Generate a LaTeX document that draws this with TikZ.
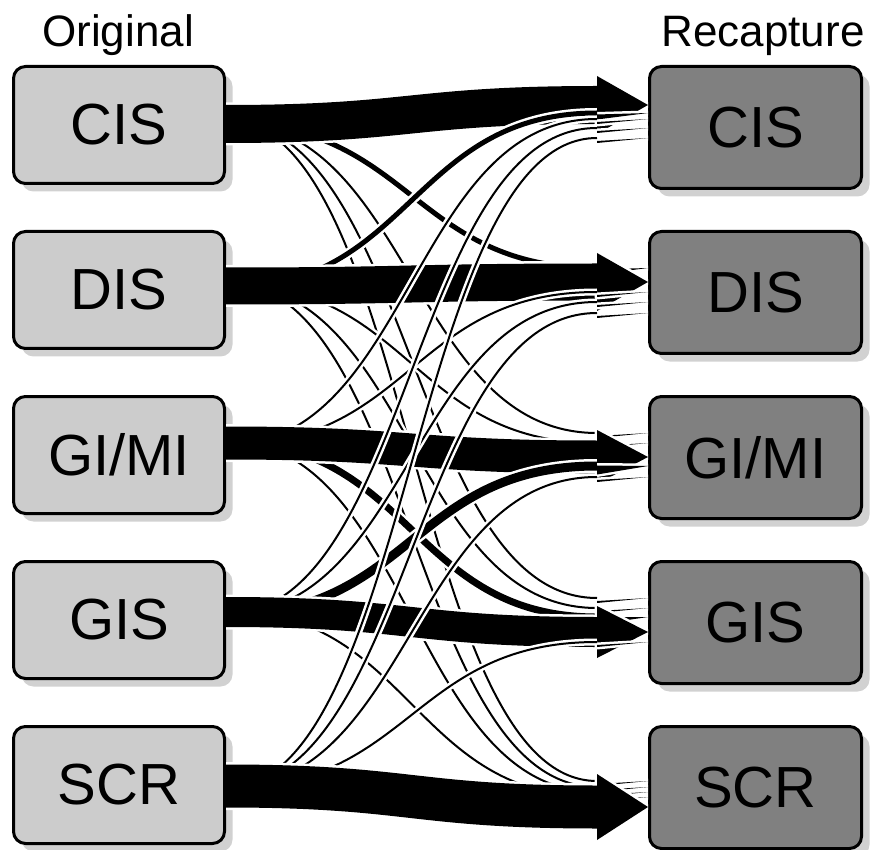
\documentclass[tikz,border=0pt]{standalone}
\usepackage{fontspec}
\setmainfont{Liberation Sans}
\usetikzlibrary{calc,shadows}
\tikzset{
  boxbase/.style={draw=black, line width=3pt, rounded corners=12pt, inner sep=0pt,
    font=\fontsize{58}{60}\selectfont,
    drop shadow={shadow xshift=8pt, shadow yshift=-8pt, fill=black!18, opacity=1}},
  srcbox/.style={boxbase, fill=black!20, minimum width=211pt, minimum height=117pt},
  tgtbox/.style={boxbase, fill=black!50, minimum width=212pt, minimum height=122pt},
  hdr/.style={anchor=base, font=\fontsize{44}{48}\selectfont},
  wbord/.style={draw=white, line join=round},
  bflow/.style={draw=black}
}
% #1 source node, #2 source dy, #3 target node, #4 target dy, #5 width, #6 head half-height
\newcommand\flw[6]{%
  \coordinate (fs) at ($(#1.east)+(0,#2)$);
  \coordinate (fe) at ($(#3.west)+(-51,#4)$);
  \coordinate (ft) at ($(#3.west)+(0,#4)$);
  \path[wbord, line width=#5pt+5pt] (fs) .. controls ($(fs)+(185,0)$) and ($(fe)+(-185,0)$) .. (fe);
  \path[wbord, line width=5pt, fill=white] ($(fe)+(0,-#6)$) -- (ft) -- ($(fe)+(0,#6)$) -- cycle;
  \path[bflow, line width=#5pt] (fs) .. controls ($(fs)+(185,0)$) and ($(fe)+(-185,0)$) .. (fe);
  \fill[black] ($(fe)+(0,-#6)$) -- (ft) -- ($(fe)+(0,#6)$) -- cycle;
}
\newcommand\thin[5]{\flw{#1}{#2}{#3}{#4}{#5}{#5/2+4}}
\begin{document}
\begin{tikzpicture}[x=1pt,y=-1pt]
\useasboundingbox (0,0) rectangle (873,850);
\node[hdr] (hl) at (118,47) {Original};
\node[hdr] (hr) at (763,47) {Recapture};
\node[srcbox] (L1) at (119,125) {CIS};
\node[srcbox] (L2) at (119,290) {DIS};
\node[srcbox] (L3) at (119,455) {GI/MI};
\node[srcbox] (L4) at (119,620) {GIS};
\node[srcbox] (L5) at (119,785) {SCR};
\node[tgtbox] (R1) at (755.5,127.5) {CIS};
\node[tgtbox] (R2) at (755.5,292.5) {DIS};
\node[tgtbox] (R3) at (755.5,457.5) {GI/MI};
\node[tgtbox] (R4) at (755.5,622.5) {GIS};
\node[tgtbox] (R5) at (755.5,787.5) {SCR};
\begin{scope}
\clip ($(L1.east)+(0,-200)$) rectangle ($(R5.west)+(0,100)$);
% source CIS
\thin{L1}{-2}{R2}{-24.5}{5}
\thin{L1}{-3}{R3}{-24.5}{2}
\thin{L1}{-4}{R4}{-24.5}{2}
\thin{L1}{-5}{R5}{-6.5}{2}
\flw{L1}{-1}{R1}{-22.5}{38}{29}
% source DIS
\thin{L2}{-2}{R1}{-14.5}{5}
\thin{L2}{-6}{R3}{-14.5}{2}
\thin{L2}{-7}{R4}{-14.5}{2}
\thin{L2}{-8}{R5}{-0.5}{2}
\flw{L2}{-4}{R2}{-10.5}{37}{29}
% source GI/MI
\thin{L3}{-10}{R1}{-8.5}{2}
\thin{L3}{-10}{R2}{-0.5}{2}
\thin{L3}{-13}{R4}{-5.5}{7}
\thin{L3}{-14}{R5}{4.5}{2}
\flw{L3}{-12}{R3}{-0.5}{33}{27}
% source GIS
\thin{L4}{-6}{R1}{0.5}{2}
\thin{L4}{-6}{R2}{9.5}{2}
\thin{L4}{-5}{R3}{8.5}{9}
\thin{L4}{-9}{R5}{9.5}{2}
\flw{L4}{-8}{R4}{9.5}{30}{26}
% source SCR
\thin{L5}{3}{R1}{10.5}{2}
\thin{L5}{3}{R2}{20.5}{2}
\thin{L5}{3}{R3}{19.5}{2}
\thin{L5}{3}{R4}{19.5}{2}
\flw{L5}{1}{R5}{19.5}{43}{33}
\end{scope}
\end{tikzpicture}
\end{document}
